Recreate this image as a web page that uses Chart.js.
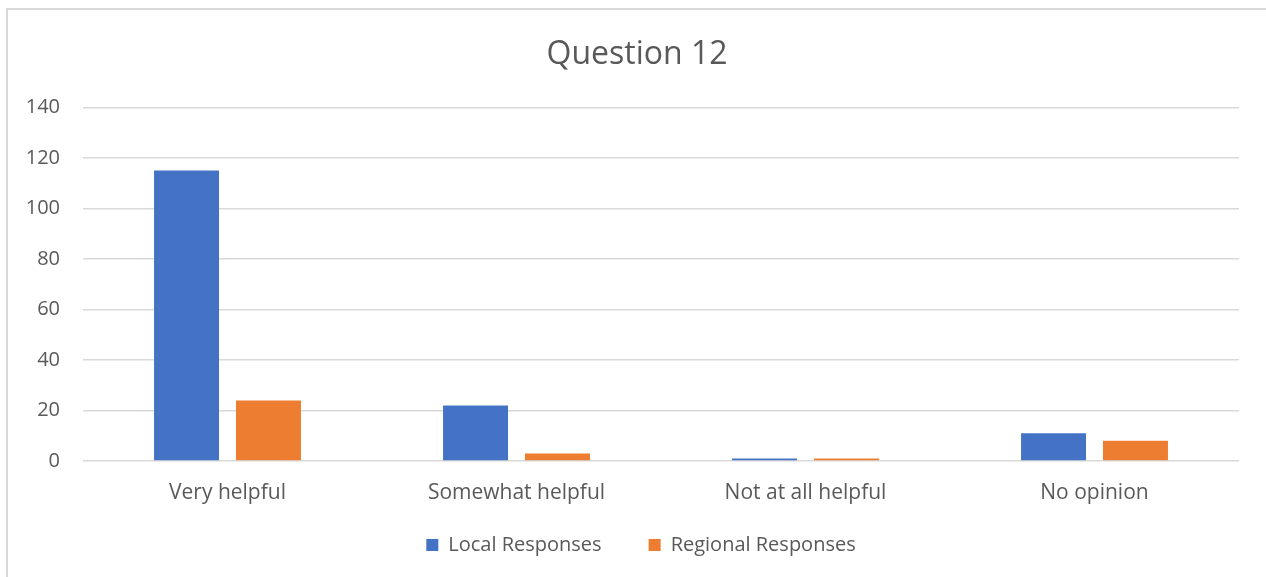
<!DOCTYPE html>
<html>
<head>
<meta charset="utf-8">
<title>Question 12</title>
<script src="https://cdn.jsdelivr.net/npm/chart.js@4/dist/chart.umd.min.js"></script>
<style>
  html, body { margin: 0; padding: 0; background: #ffffff; }
  #wrap { position: relative; width: 1266px; height: 577px; overflow: hidden; }
  #frame {
    position: absolute; left: 6px; top: 8px; width: 1260px; height: 569px;
    border-left: 2px solid #d9d9d9; border-top: 2px solid #d9d9d9;
    pointer-events: none;
  }
  canvas { position: absolute; left: 0; top: 0; }
</style>
</head>
<body>
<div id="wrap">
  <canvas id="chart" width="1266" height="577"></canvas>
  <div id="frame"></div>
</div>
<script>
// Survey answers for question 12
const categories = ["Very helpful", "Somewhat helpful", "Not at all helpful", "No opinion"];
const localResponses = [115, 22, 1, 11];
const regionalResponses = [24, 3, 1, 8];
const yTicks = [0, 20, 40, 60, 80, 100, 120, 140];

const textColor = "#595959";
const gridColor = "#d9d9d9";
const fontFamily = "'Open Sans', 'Noto Sans', sans-serif";

// Centre title and legend on the framed area and give the category
// labels room below the axis without shrinking the plot.
const layoutTweaks = {
  id: "layoutTweaks",
  afterLayout(chart) {
    const t = chart.titleBlock;
    if (t) { t.left = 8; t.right = chart.width; t.width = t.right - t.left; }
    const l = chart.legend;
    if (l) { l.left = 16; l.right = chart.width; l.width = l.right - l.left; }
    const x = chart.scales.x;
    x.bottom = x.top + 64;
    x.height = 64;
  }
};

new Chart(document.getElementById("chart"), {
  type: "bar",
  plugins: [layoutTweaks],
  data: {
    labels: categories,
    datasets: [
      {
        label: "Local Responses",
        data: localResponses,
        backgroundColor: "#4472c4",
        borderWidth: 0,
        categoryPercentage: 0.567,
        barPercentage: 0.793
      },
      {
        label: "Regional Responses",
        data: regionalResponses,
        backgroundColor: "#ed7d31",
        borderWidth: 0,
        categoryPercentage: 0.567,
        barPercentage: 0.793
      }
    ]
  },
  options: {
    responsive: false,
    animation: false,
    devicePixelRatio: 1,
    layout: { padding: { left: 0, right: 27, top: 0, bottom: 12 } },
    plugins: {
      title: {
        display: true,
        text: "Question 12",
        color: textColor,
        font: { family: fontFamily, size: 32, weight: "normal", lineHeight: 1.2 },
        padding: { top: 36, bottom: 33 }
      },
      legend: {
        position: "bottom",
        labels: {
          color: textColor,
          font: { family: fontFamily, size: 20 },
          boxWidth: 12,
          boxHeight: 12,
          padding: 47
        }
      },
      tooltip: { enabled: false }
    },
    scales: {
      x: {
        grid: { display: false, drawTicks: false },
        border: { display: false },
        ticks: {
          color: textColor,
          font: { family: fontFamily, size: 21, lineHeight: 1.2 },
          padding: 19,
          maxRotation: 0
        },
        afterFit: (scale) => { scale.height = 27; }
      },
      y: {
        min: 0,
        max: 140,
        afterBuildTicks: (scale) => { scale.ticks = yTicks.map(v => ({ value: v })); },
        grid: { color: gridColor, lineWidth: 1.5, drawTicks: false },
        border: { display: false },
        ticks: {
          color: textColor,
          font: { family: fontFamily, size: 20 },
          padding: 23
        },
        afterFit: (scale) => { scale.width = 83; }
      }
    }
  }
});
</script>
</body>
</html>
